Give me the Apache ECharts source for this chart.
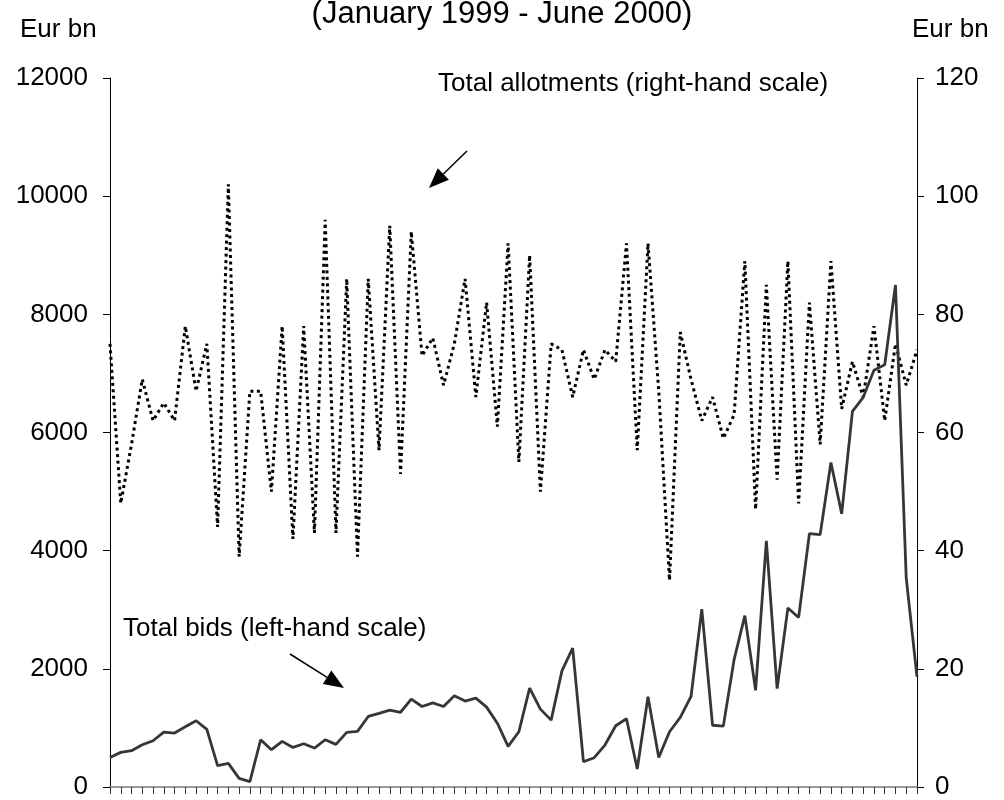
<!DOCTYPE html>
<html>
<head>
<meta charset="utf-8">
<script src="https://cdn.jsdelivr.net/npm/echarts@6/dist/echarts.min.js"></script>
<style>
html,body{margin:0;padding:0;background:#fff;}
#chart{width:1004px;height:800px;}
</style>
</head>
<body>
<div id="chart"></div>
<script>
// Weekly main refinancing operations, January 1999 - June 2000
const totalBids = [500,586,614,716,783,930,913,1020,1121,975,361,400,146,90,800,631,772,670,732,659,
  800,721,924,941,1194,1245,1301,1265,1487,1363,1425,1363,1544,1454,1504,1352,1080,687,935,1673,
  1318,1132,1966,2349,428,496,710,1037,1155,304,1527,501,935,1178,1532,3010,1045,1030,2155,2900,
  1635,4168,1665,3030,2870,4287,4273,5491,4625,6357,6596,7054,7146,8497,3534,1866];
const totalAllotments = [75,48,58,69,62,65,62,78,67,75,44,102,39,67,67,50,78,42,78,43,
  96,43,86,39,86,57,95,53,94,73,76,68,75,86,66,82,61,92,55,90,
  50,75,74,66,74,69,74,72,92,57,92,67,35,77,69,62,66,59,63,89,
  47,85,52,89,48,82,58,89,64,72,66,78,62,75,68,74];
const weeks = totalBids.map((_, i) => 'W' + (i + 1));
const leftTicks = {min: 0, max: 12000, interval: 2000};
const rightTicks = {min: 0, max: 120, interval: 20};
const titleText = '(January 1999 - June 2000)';
const unitText = 'Eur bn';
const allotLabel = 'Total allotments (right-hand scale)';
const bidsLabel = 'Total bids (left-hand scale)';

const FONT = '"Liberation Sans", Arial, sans-serif';
const chart = echarts.init(document.getElementById('chart'), null, {renderer: 'canvas'});

function arrow(tail, tip) {
  const dx = tip[0] - tail[0], dy = tip[1] - tail[1];
  const len = Math.sqrt(dx * dx + dy * dy);
  const ux = dx / len, uy = dy / len;
  const hl = 20, hw = 8;
  const bx = tip[0] - ux * hl, by = tip[1] - uy * hl;
  const px = -uy * hw, py = ux * hw;
  return [
    {type: 'line', shape: {x1: tail[0], y1: tail[1], x2: bx, y2: by},
     style: {stroke: '#000', lineWidth: 1.5}, silent: true},
    {type: 'polygon', shape: {points: [tip, [bx + px, by + py], [bx - px, by - py]]},
     style: {fill: '#000'}, silent: true}
  ];
}

const axisCommon = {
  type: 'value',
  axisLine: {show: true, lineStyle: {color: '#000', width: 1}},
  axisTick: {show: true, inside: false, length: 7, lineStyle: {color: '#000', width: 1}},
  splitLine: {show: false},
};

chart.setOption({
  animation: false,
  backgroundColor: '#fff',
  grid: {left: 110, right: 87, top: 78, bottom: 12, containLabel: false},
  xAxis: {
    type: 'category',
    data: weeks,
    boundaryGap: false,
    axisLine: {show: true, lineStyle: {color: '#7a7a7a', width: 1.5}},
    axisTick: {show: true, interval: 0, length: 7, lineStyle: {color: '#333', width: 1}},
    axisLabel: {show: false},
    splitLine: {show: false}
  },
  yAxis: [
    Object.assign({}, axisCommon, {
      position: 'left', min: leftTicks.min, max: leftTicks.max, interval: leftTicks.interval,
      axisLabel: {fontSize: 26, color: '#000', fontFamily: FONT, margin: 22,
                  formatter: v => String(v)}
    }),
    Object.assign({}, axisCommon, {
      position: 'right', min: rightTicks.min, max: rightTicks.max, interval: rightTicks.interval,
      axisLabel: {fontSize: 26, color: '#000', fontFamily: FONT, margin: 18,
                  formatter: v => String(v)}
    })
  ],
  series: [
    {name: 'Total bids', type: 'line', yAxisIndex: 0, data: totalBids, symbol: 'none',
     lineStyle: {color: '#363636', width: 2.8}, z: 3},
    {name: 'Total allotments', type: 'line', yAxisIndex: 1, data: totalAllotments, symbol: 'none',
     lineStyle: {color: '#000', width: 3, type: [3, 3.5]}, z: 2}
  ],
  graphic: [
    {type: 'text', left: 'center', top: -1,
     style: {text: titleText, font: '31px ' + FONT, fill: '#000'}},
    {type: 'text', x: 20, y: 17, style: {text: unitText, font: '26px ' + FONT, fill: '#000'}},
    {type: 'text', x: 912, y: 17, style: {text: unitText, font: '26px ' + FONT, fill: '#000'}},
    {type: 'text', x: 438, y: 71, style: {text: allotLabel, font: '26px ' + FONT, fill: '#000'}},
    {type: 'text', x: 123, y: 616, style: {text: bidsLabel, font: '26px ' + FONT, fill: '#000'}}
  ].concat(arrow([467, 151], [429, 188])).concat(arrow([290, 654], [344, 688]))
});
</script>
</body>
</html>
